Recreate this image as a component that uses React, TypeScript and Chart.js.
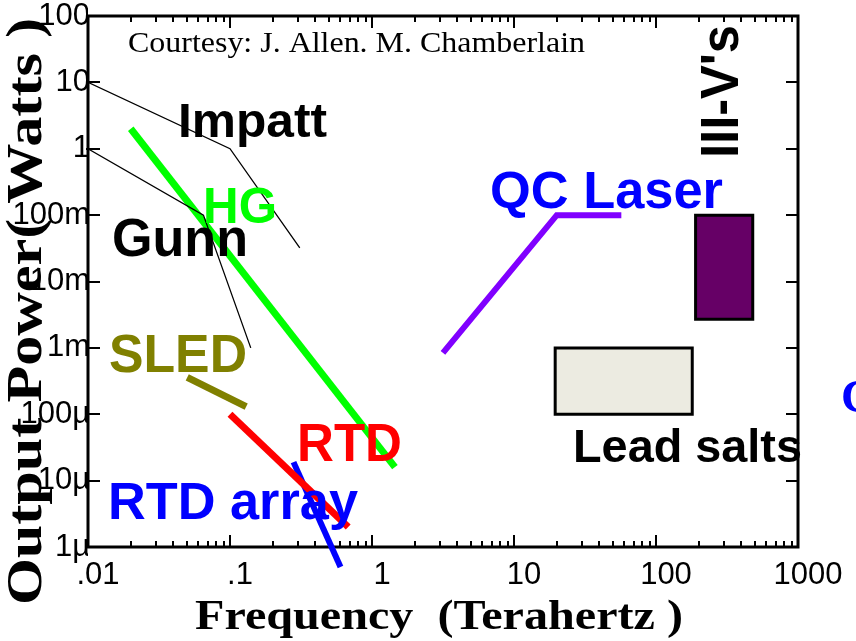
import React, { useEffect, useRef } from "react";
import { Chart, registerables } from "chart.js";

Chart.register(...registerables);

// Axis ticks
const FREQ_TICKS = [0.01, 0.1, 1, 10, 100, 1000];
const FREQ_TICK_LABELS = [".01", ".1", "1", "10", "100", "1000"];
const POWER_TICKS = [1e-6, 1e-5, 1e-4, 1e-3, 1e-2, 1e-1, 1, 10, 100];
const POWER_TICK_LABELS = ["1µ", "10µ", "100µ", "1m", "10m", "100m", "1", "10", "100"];

// Source curves: frequency (THz) and output power (W)
const impattFreq = [0.01, 0.1, 0.31];
const impattPower = [10, 1, 0.032];
const gunnFreq = [0.01, 0.065, 0.14];
const gunnPower = [1, 0.1, 0.001];
const hgFreq = [0.02, 1.45];
const hgPower = [2, 1.6e-5];
const sledFreq = [0.05, 0.13];
const sledPower = [3.6e-4, 1.3e-4];
const rtdFreq = [0.1, 0.68];
const rtdPower = [1e-4, 2e-6];
const rtdArrayFreq = [0.28, 0.6];
const rtdArrayPower = [1.9e-5, 5e-7];
const qcFreq = [3.16, 20, 57];
const qcPower = [8.4e-4, 0.1, 0.1];

// Source regions: [low, high] frequency and power
const iiiVFreq = [190, 480];
const iiiVPower = [2.7e-3, 0.1];
const leadSaltFreq = [19.5, 180];
const leadSaltPower = [1e-4, 1e-3];

const pts = (xs: number[], ys: number[]) => xs.map((x, i) => ({ x, y: ys[i] }));
const box = (xs: number[], ys: number[]) => [
  { x: xs[0], y: ys[1] },
  { x: xs[1], y: ys[1] },
  { x: xs[1], y: ys[0] },
  { x: xs[0], y: ys[0] },
  { x: xs[0], y: ys[1] },
];

const SANS = '"Liberation Sans", Arial, sans-serif';
const SERIF = '"Liberation Serif", "Times New Roman", serif';

// Annotation text: left x, baseline y, target width
const NOTES = [
  { text: "Impatt", x: 178, y: 137, w: 149, size: 49, color: "#000000" },
  { text: "HG", x: 203, y: 223, w: 74, size: 50, color: "#00ff00" },
  { text: "Gunn", x: 112, y: 256, w: 136, size: 53, color: "#000000" },
  { text: "SLED", x: 109, y: 372, w: 138, size: 53, color: "#808000" },
  { text: "RTD", x: 297, y: 461, w: 105, size: 53, color: "#ff0000" },
  { text: "RTD array", x: 108, y: 519, w: 250, size: 51, color: "#0000ff" },
  { text: "QC Laser", x: 490, y: 208, w: 233, size: 51, color: "#0000ff" },
  { text: "Lead salts", x: 573, y: 462, w: 229, size: 47, color: "#000000" },
];

function drawFitted(
  ctx: CanvasRenderingContext2D,
  text: string,
  x: number,
  y: number,
  width: number,
  font: string,
  color: string,
  angle = 0
) {
  ctx.save();
  ctx.font = font;
  ctx.fillStyle = color;
  ctx.textAlign = "left";
  ctx.textBaseline = "alphabetic";
  const natural = ctx.measureText(text).width;
  ctx.translate(x, y);
  if (angle) ctx.rotate(angle);
  ctx.scale(width / natural, 1);
  ctx.fillText(text, 0, 0);
  ctx.restore();
}

// Frame with inward tick marks on all four sides
const framePlugin = {
  id: "frame",
  beforeDatasetsDraw(chart: any) {
    const { ctx, chartArea: a, scales } = chart;
    const xs = scales.x;
    const ys = scales.y;
    ctx.save();
    ctx.strokeStyle = "#000";
    ctx.lineWidth = 2;
    ctx.beginPath();
    for (let i = 0; i < FREQ_TICKS.length; i++) {
      const d = FREQ_TICKS[i];
      const px = Math.round(xs.getPixelForValue(d));
      ctx.moveTo(px, a.bottom);
      ctx.lineTo(px, a.bottom - 12);
      ctx.moveTo(px, a.top);
      ctx.lineTo(px, a.top + 12);
      if (i < FREQ_TICKS.length - 1) {
        for (let k = 2; k <= 9; k++) {
          const mx = Math.round(xs.getPixelForValue(d * k));
          ctx.moveTo(mx, a.bottom);
          ctx.lineTo(mx, a.bottom - 6);
          ctx.moveTo(mx, a.top);
          ctx.lineTo(mx, a.top + 6);
        }
      }
    }
    for (const v of POWER_TICKS) {
      const py = Math.round(ys.getPixelForValue(v));
      ctx.moveTo(a.left - 2, py);
      ctx.lineTo(a.left + 12, py);
      ctx.moveTo(a.right, py);
      ctx.lineTo(a.right - 12, py);
    }
    ctx.stroke();
    ctx.lineWidth = 3;
    ctx.strokeRect(a.left, a.top, a.right - a.left, a.bottom - a.top);
    ctx.restore();
  },
  afterDatasetsDraw(chart: any) {
    const { ctx } = chart;
    for (const n of NOTES) {
      drawFitted(ctx, n.text, n.x, n.y, n.w, `bold ${n.size}px ${SANS}`, n.color);
    }
    drawFitted(ctx, "III-V's", 738, 158, 133, `bold 54px ${SANS}`, "#000000", -Math.PI / 2);
    drawFitted(ctx, "Courtesy: J. Allen. M. Chamberlain", 128, 52, 457, `30px ${SERIF}`, "#000000");
    drawFitted(ctx, "Frequency  (Terahertz )", 195, 629, 488, `bold 43px ${SERIF}`, "#000000");
    drawFitted(ctx, "Output Power( Watts )", 41, 605, 587, `bold 50px ${SERIF}`, "#000000", -Math.PI / 2);
    ctx.save();
    ctx.font = `bold 46px ${SERIF}`;
    ctx.fillStyle = "#0000ff";
    ctx.textBaseline = "alphabetic";
    ctx.fillText("C", 841, 412);
    ctx.restore();
  },
};

const lineSet = (data: any[], color: string, width: number, extra: any = {}) => ({
  data,
  showLine: true,
  borderColor: color,
  backgroundColor: color,
  borderWidth: width,
  pointRadius: 0,
  pointHoverRadius: 0,
  fill: false,
  tension: 0,
  ...extra,
});

export default function App() {
  const canvasRef = useRef<HTMLCanvasElement>(null);

  useEffect(() => {
    if (!canvasRef.current) return;
    const chart = new Chart(canvasRef.current, {
      type: "scatter",
      data: {
        datasets: [
          lineSet(box(leadSaltFreq, leadSaltPower), "#000000", 3, {
            fill: "shape",
            backgroundColor: "#ecebe1",
            borderCapStyle: "square",
            borderJoinStyle: "miter",
          }),
          lineSet(box(iiiVFreq, iiiVPower), "#000000", 3, {
            fill: "shape",
            backgroundColor: "#660066",
            borderCapStyle: "square",
            borderJoinStyle: "miter",
          }),
          lineSet(pts(impattFreq, impattPower), "#000000", 1.3),
          lineSet(pts(gunnFreq, gunnPower), "#000000", 1.3),
          lineSet(pts(hgFreq, hgPower), "#00ff00", 7),
          lineSet(pts(sledFreq, sledPower), "#808000", 7),
          lineSet(pts(rtdFreq, rtdPower), "#ff0000", 7),
          lineSet(pts(rtdArrayFreq, rtdArrayPower), "#0000ff", 6, { clip: false }),
          lineSet(pts(qcFreq, qcPower), "#8000ff", 6),
        ],
      },
      options: {
        responsive: false,
        devicePixelRatio: 1,
        animation: false,
        events: [],
        layout: { padding: { left: 0, top: 16, right: 58, bottom: 0 } },
        plugins: {
          legend: { display: false },
          tooltip: { enabled: false },
        },
        scales: {
          x: {
            type: "logarithmic",
            min: 0.01,
            max: 1000,
            grid: { display: false, drawTicks: false },
            border: { display: false },
            afterBuildTicks: (scale: any) => {
              scale.ticks = FREQ_TICKS.map((value) => ({ value }));
            },
            afterFit: (scale: any) => {
              scale.height = 94;
              scale.paddingLeft = 0;
              scale.paddingRight = 0;
              scale.paddingTop = 0;
              scale.paddingBottom = 0;
            },
            ticks: {
              autoSkip: false,
              maxRotation: 0,
              minRotation: 0,
              padding: 10,
              labelOffset: 10,
              color: "#000000",
              font: { family: SANS, size: 31 },
              callback: (_v: any, i: number) => FREQ_TICK_LABELS[i],
            },
          },
          y: {
            type: "logarithmic",
            min: 1e-6,
            max: 100,
            grid: { display: false, drawTicks: false },
            border: { display: false },
            afterBuildTicks: (scale: any) => {
              scale.ticks = POWER_TICKS.map((value) => ({ value }));
            },
            afterFit: (scale: any) => {
              scale.width = 88;
              scale.paddingLeft = 0;
              scale.paddingRight = 0;
              scale.paddingTop = 0;
              scale.paddingBottom = 0;
            },
            ticks: {
              autoSkip: false,
              padding: -2,
              color: "#000000",
              font: { family: SANS, size: 31 },
              callback: (_v: any, i: number) => POWER_TICK_LABELS[i],
            },
          },
        },
      },
      plugins: [framePlugin],
    } as any);
    return () => chart.destroy();
  }, []);

  return (
    <div
      style={{
        position: "fixed",
        left: 0,
        top: 0,
        width: 856,
        height: 641,
        background: "#ffffff",
      }}
    >
      <canvas ref={canvasRef} width={856} height={641} style={{ display: "block" }} />
    </div>
  );
}
